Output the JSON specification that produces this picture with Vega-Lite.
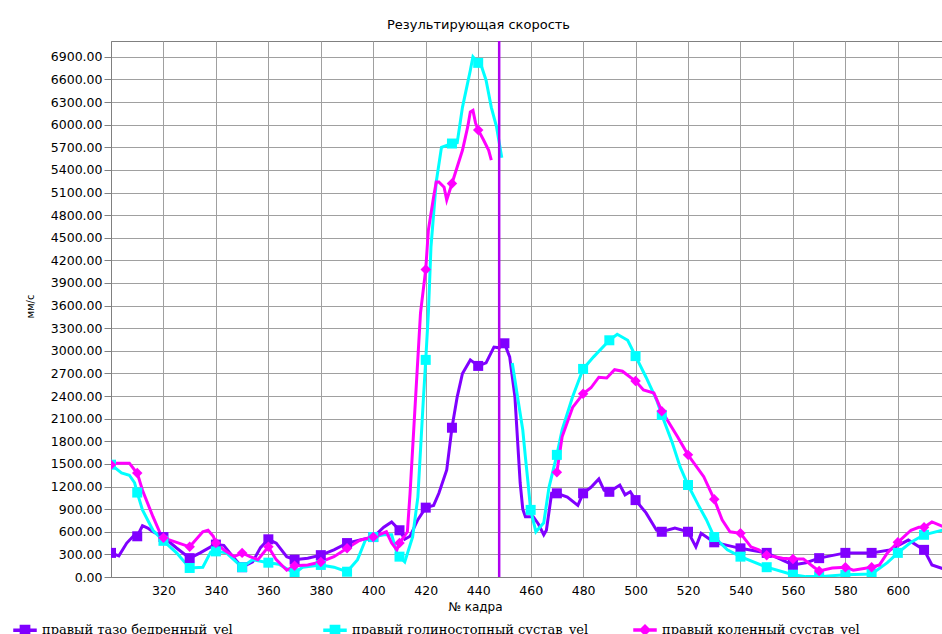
{
"$schema": "https://vega.github.io/schema/vega-lite/v6.json",
"width": 833, "height": 536,
"autosize": {"type": "none"},
"padding": {"left": 111, "top": 41, "right": 0, "bottom": 57},
"background": "white",
"config": {"view": {"stroke": "#808080"}},
"title": {"text": "Результирующая скорость", "frame": "group", "anchor": "middle", "dx": -49, "baseline": "middle", "offset": 2, "font": "DejaVu Sans", "fontSize": 13, "fontWeight": "normal", "color": "#000"},
"datasets": {
"speed": [
{"s":"правый тазо бедренный_vel","f":300,"v":320},{"s":"правый тазо бедренный_vel","f":303,"v":280},{"s":"правый тазо бедренный_vel","f":306,"v":450},{"s":"правый тазо бедренный_vel","f":309,"v":560},{"s":"правый тазо бедренный_vel","f":310,"v":540},{"s":"правый тазо бедренный_vel","f":312,"v":680},{"s":"правый тазо бедренный_vel","f":314,"v":650},{"s":"правый тазо бедренный_vel","f":316,"v":600},{"s":"правый тазо бедренный_vel","f":320,"v":530},{"s":"правый тазо бедренный_vel","f":325,"v":385},{"s":"правый тазо бедренный_vel","f":330,"v":250},{"s":"правый тазо бедренный_vel","f":334,"v":320},{"s":"правый тазо бедренный_vel","f":339,"v":420},{"s":"правый тазо бедренный_vel","f":340,"v":430},{"s":"правый тазо бедренный_vel","f":343,"v":420},{"s":"правый тазо бедренный_vel","f":346,"v":290},{"s":"правый тазо бедренный_vel","f":350,"v":130},{"s":"правый тазо бедренный_vel","f":354,"v":200},{"s":"правый тазо бедренный_vel","f":357,"v":390},{"s":"правый тазо бедренный_vel","f":360,"v":500},{"s":"правый тазо бедренный_vel","f":363,"v":450},{"s":"правый тазо бедренный_vel","f":367,"v":270},{"s":"правый тазо бедренный_vel","f":370,"v":230},{"s":"правый тазо бедренный_vel","f":375,"v":250},{"s":"правый тазо бедренный_vel","f":380,"v":290},{"s":"правый тазо бедренный_vel","f":385,"v":360},{"s":"правый тазо бедренный_vel","f":390,"v":450},{"s":"правый тазо бедренный_vel","f":395,"v":490},{"s":"правый тазо бедренный_vel","f":400,"v":530},{"s":"правый тазо бедренный_vel","f":404,"v":660},{"s":"правый тазо бедренный_vel","f":407,"v":730},{"s":"правый тазо бедренный_vel","f":410,"v":620},{"s":"правый тазо бедренный_vel","f":412,"v":500},{"s":"правый тазо бедренный_vel","f":414,"v":540},{"s":"правый тазо бедренный_vel","f":417,"v":760},{"s":"правый тазо бедренный_vel","f":420,"v":920},{"s":"правый тазо бедренный_vel","f":423,"v":950},{"s":"правый тазо бедренный_vel","f":425,"v":1110},{"s":"правый тазо бедренный_vel","f":428,"v":1420},{"s":"правый тазо бедренный_vel","f":430,"v":1980},{"s":"правый тазо бедренный_vel","f":432,"v":2390},{"s":"правый тазо бедренный_vel","f":434,"v":2700},{"s":"правый тазо бедренный_vel","f":437,"v":2880},{"s":"правый тазо бедренный_vel","f":440,"v":2800},{"s":"правый тазо бедренный_vel","f":443,"v":2840},{"s":"правый тазо бедренный_vel","f":446,"v":3050},{"s":"правый тазо бедренный_vel","f":448,"v":3040},{"s":"правый тазо бедренный_vel","f":450,"v":3100},{"s":"правый тазо бедренный_vel","f":452,"v":2920},{"s":"правый тазо бедренный_vel","f":454,"v":2390},{"s":"правый тазо бедренный_vel","f":455,"v":1820},{"s":"правый тазо бедренный_vel","f":456,"v":1250},{"s":"правый тазо бедренный_vel","f":457,"v":900},{"s":"правый тазо бедренный_vel","f":458,"v":800},{"s":"правый тазо бедренный_vel","f":461,"v":800},{"s":"правый тазо бедренный_vel","f":463,"v":700},{"s":"правый тазо бедренный_vel","f":465,"v":560},{"s":"правый тазо бедренный_vel","f":466,"v":620},{"s":"правый тазо бедренный_vel","f":468,"v":1110},{"s":"правый тазо бедренный_vel","f":470,"v":1110},{"s":"правый тазо бедренный_vel","f":474,"v":1060},{"s":"правый тазо бедренный_vel","f":478,"v":950},{"s":"правый тазо бедренный_vel","f":480,"v":1110},{"s":"правый тазо бедренный_vel","f":483,"v":1190},{"s":"правый тазо бедренный_vel","f":486,"v":1300},{"s":"правый тазо бедренный_vel","f":488,"v":1150},{"s":"правый тазо бедренный_vel","f":490,"v":1130},{"s":"правый тазо бедренный_vel","f":494,"v":1220},{"s":"правый тазо бедренный_vel","f":496,"v":1090},{"s":"правый тазо бедренный_vel","f":498,"v":1130},{"s":"правый тазо бедренный_vel","f":500,"v":1020},{"s":"правый тазо бедренный_vel","f":504,"v":850},{"s":"правый тазо бедренный_vel","f":508,"v":620},{"s":"правый тазо бедренный_vel","f":510,"v":600},{"s":"правый тазо бедренный_vel","f":515,"v":650},{"s":"правый тазо бедренный_vel","f":520,"v":600},{"s":"правый тазо бедренный_vel","f":523,"v":400},{"s":"правый тазо бедренный_vel","f":525,"v":580},{"s":"правый тазо бедренный_vel","f":530,"v":460},{"s":"правый тазо бедренный_vel","f":535,"v":420},{"s":"правый тазо бедренный_vel","f":540,"v":380},{"s":"правый тазо бедренный_vel","f":550,"v":320},{"s":"правый тазо бедренный_vel","f":560,"v":160},{"s":"правый тазо бедренный_vel","f":565,"v":190},{"s":"правый тазо бедренный_vel","f":570,"v":250},{"s":"правый тазо бедренный_vel","f":580,"v":320},{"s":"правый тазо бедренный_vel","f":590,"v":320},{"s":"правый тазо бедренный_vel","f":597,"v":360},{"s":"правый тазо бедренный_vel","f":604,"v":490},{"s":"правый тазо бедренный_vel","f":610,"v":360},{"s":"правый тазо бедренный_vel","f":613,"v":160},{"s":"правый тазо бедренный_vel","f":618,"v":100},
{"s":"правый голиностопный сустав_vel","f":300,"v":1490},{"s":"правый голиностопный сустав_vel","f":304,"v":1380},{"s":"правый голиностопный сустав_vel","f":307,"v":1350},{"s":"правый голиностопный сустав_vel","f":309,"v":1250},{"s":"правый голиностопный сустав_vel","f":310,"v":1120},{"s":"правый голиностопный сустав_vel","f":312,"v":890},{"s":"правый голиностопный сустав_vel","f":316,"v":620},{"s":"правый голиностопный сустав_vel","f":320,"v":480},{"s":"правый голиностопный сустав_vel","f":325,"v":320},{"s":"правый голиностопный сустав_vel","f":330,"v":120},{"s":"правый голиностопный сустав_vel","f":335,"v":130},{"s":"правый голиностопный сустав_vel","f":338,"v":330},{"s":"правый голиностопный сустав_vel","f":340,"v":340},{"s":"правый голиностопный сустав_vel","f":344,"v":320},{"s":"правый голиностопный сустав_vel","f":350,"v":130},{"s":"правый голиностопный сустав_vel","f":354,"v":230},{"s":"правый голиностопный сустав_vel","f":360,"v":190},{"s":"правый голиностопный сустав_vel","f":364,"v":170},{"s":"правый голиностопный сустав_vel","f":370,"v":50},{"s":"правый голиностопный сустав_vel","f":373,"v":130},{"s":"правый голиностопный сустав_vel","f":380,"v":160},{"s":"правый голиностопный сустав_vel","f":385,"v":130},{"s":"правый голиностопный сустав_vel","f":390,"v":70},{"s":"правый голиностопный сустав_vel","f":394,"v":230},{"s":"правый голиностопный сустав_vel","f":397,"v":490},{"s":"правый голиностопный сустав_vel","f":400,"v":530},{"s":"правый голиностопный сустав_vel","f":404,"v":560},{"s":"правый голиностопный сустав_vel","f":407,"v":560},{"s":"правый голиностопный сустав_vel","f":409,"v":320},{"s":"правый голиностопный сустав_vel","f":410,"v":270},{"s":"правый голиностопный сустав_vel","f":412,"v":200},{"s":"правый голиностопный сустав_vel","f":415,"v":530},{"s":"правый голиностопный сустав_vel","f":417,"v":1060},{"s":"правый голиностопный сустав_vel","f":419,"v":2300},{"s":"правый голиностопный сустав_vel","f":420,"v":2880},{"s":"правый голиностопный сустав_vel","f":421,"v":3500},{"s":"правый голиностопный сустав_vel","f":422,"v":4380},{"s":"правый голиностопный сустав_vel","f":424,"v":5240},{"s":"правый голиностопный сустав_vel","f":426,"v":5700},{"s":"правый голиностопный сустав_vel","f":430,"v":5750},{"s":"правый голиностопный сустав_vel","f":432,"v":5760},{"s":"правый голиностопный сустав_vel","f":434,"v":6230},{"s":"правый голиностопный сустав_vel","f":437,"v":6720},{"s":"правый голиностопный сустав_vel","f":438,"v":6900},{"s":"правый голиностопный сустав_vel","f":440,"v":6820},{"s":"правый голиностопный сустав_vel","f":441,"v":6800},{"s":"правый голиностопный сустав_vel","f":443,"v":6590},{"s":"правый голиностопный сустав_vel","f":445,"v":6230},{"s":"правый голиностопный сустав_vel","f":447,"v":5970},{"s":"правый голиностопный сустав_vel","f":449,"v":5560},{"s":"правый голиностопный сустав_vel","f":451,"v":null},{"s":"правый голиностопный сустав_vel","f":453,"v":2840},{"s":"правый голиностопный сустав_vel","f":455,"v":2390},{"s":"правый голиностопный сустав_vel","f":457,"v":1950},{"s":"правый голиностопный сустав_vel","f":458,"v":1590},{"s":"правый голиностопный сустав_vel","f":459,"v":1250},{"s":"правый голиностопный сустав_vel","f":460,"v":890},{"s":"правый голиностопный сустав_vel","f":462,"v":600},{"s":"правый голиностопный сустав_vel","f":465,"v":720},{"s":"правый голиностопный сустав_vel","f":467,"v":1190},{"s":"правый голиностопный сустав_vel","f":470,"v":1620},{"s":"правый голиностопный сустав_vel","f":472,"v":1950},{"s":"правый голиностопный сустав_vel","f":476,"v":2390},{"s":"правый голиностопный сустав_vel","f":480,"v":2760},{"s":"правый голиностопный сустав_vel","f":484,"v":2920},{"s":"правый голиностопный сустав_vel","f":490,"v":3140},{"s":"правый голиностопный сустав_vel","f":493,"v":3220},{"s":"правый голиностопный сустав_vel","f":497,"v":3140},{"s":"правый голиностопный сустав_vel","f":500,"v":2930},{"s":"правый голиностопный сустав_vel","f":504,"v":2650},{"s":"правый голиностопный сустав_vel","f":508,"v":2350},{"s":"правый голиностопный сустав_vel","f":510,"v":2150},{"s":"правый голиностопный сустав_vel","f":514,"v":1780},{"s":"правый голиностопный сустав_vel","f":517,"v":1460},{"s":"правый голиностопный сустав_vel","f":520,"v":1220},{"s":"правый голиностопный сустав_vel","f":524,"v":950},{"s":"правый голиностопный сустав_vel","f":527,"v":760},{"s":"правый голиностопный сустав_vel","f":530,"v":530},{"s":"правый голиностопный сустав_vel","f":535,"v":360},{"s":"правый голиностопный сустав_vel","f":540,"v":270},{"s":"правый голиностопный сустав_vel","f":550,"v":130},{"s":"правый голиностопный сустав_vel","f":560,"v":30},{"s":"правый голиностопный сустав_vel","f":565,"v":5},{"s":"правый голиностопный сустав_vel","f":570,"v":5},{"s":"правый голиностопный сустав_vel","f":580,"v":30},{"s":"правый голиностопный сустав_vel","f":590,"v":40},{"s":"правый голиностопный сустав_vel","f":596,"v":190},{"s":"правый голиностопный сустав_vel","f":600,"v":320},{"s":"правый голиностопный сустав_vel","f":605,"v":460},{"s":"правый голиностопный сустав_vel","f":610,"v":560},{"s":"правый голиностопный сустав_vel","f":618,"v":630},
{"s":"правый коленный сустав_vel","f":300,"v":1490},{"s":"правый коленный сустав_vel","f":302,"v":1510},{"s":"правый коленный сустав_vel","f":307,"v":1510},{"s":"правый коленный сустав_vel","f":309,"v":1420},{"s":"правый коленный сустав_vel","f":310,"v":1380},{"s":"правый коленный сустав_vel","f":312,"v":1150},{"s":"правый коленный сустав_vel","f":316,"v":800},{"s":"правый коленный сустав_vel","f":319,"v":560},{"s":"правый коленный сустав_vel","f":320,"v":520},{"s":"правый коленный сустав_vel","f":325,"v":460},{"s":"правый коленный сустав_vel","f":330,"v":400},{"s":"правый коленный сустав_vel","f":335,"v":600},{"s":"правый коленный сустав_vel","f":337,"v":620},{"s":"правый коленный сустав_vel","f":339,"v":540},{"s":"правый коленный сустав_vel","f":340,"v":450},{"s":"правый коленный сустав_vel","f":343,"v":360},{"s":"правый коленный сустав_vel","f":347,"v":270},{"s":"правый коленный сустав_vel","f":350,"v":320},{"s":"правый коленный сустав_vel","f":353,"v":270},{"s":"правый коленный сустав_vel","f":356,"v":230},{"s":"правый коленный сустав_vel","f":360,"v":400},{"s":"правый коленный сустав_vel","f":363,"v":230},{"s":"правый коленный сустав_vel","f":367,"v":90},{"s":"правый коленный сустав_vel","f":370,"v":150},{"s":"правый коленный сустав_vel","f":375,"v":160},{"s":"правый коленный сустав_vel","f":380,"v":200},{"s":"правый коленный сустав_vel","f":385,"v":270},{"s":"правый коленный сустав_vel","f":390,"v":380},{"s":"правый коленный сустав_vel","f":395,"v":490},{"s":"правый коленный сустав_vel","f":400,"v":530},{"s":"правый коленный сустав_vel","f":405,"v":600},{"s":"правый коленный сустав_vel","f":407,"v":450},{"s":"правый коленный сустав_vel","f":409,"v":360},{"s":"правый коленный сустав_vel","f":410,"v":450},{"s":"правый коленный сустав_vel","f":413,"v":600},{"s":"правый коленный сустав_vel","f":414,"v":1100},{"s":"правый коленный сустав_vel","f":416,"v":2300},{"s":"правый коленный сустав_vel","f":418,"v":3500},{"s":"правый коленный сустав_vel","f":420,"v":4080},{"s":"правый коленный сустав_vel","f":421,"v":4600},{"s":"правый коленный сустав_vel","f":423,"v":5040},{"s":"правый коленный сустав_vel","f":424,"v":5240},{"s":"правый коленный сустав_vel","f":425,"v":5240},{"s":"правый коленный сустав_vel","f":427,"v":5170},{"s":"правый коленный сустав_vel","f":428,"v":5000},{"s":"правый коленный сустав_vel","f":430,"v":5220},{"s":"правый коленный сустав_vel","f":434,"v":5660},{"s":"правый коленный сустав_vel","f":436,"v":5970},{"s":"правый коленный сустав_vel","f":437,"v":6170},{"s":"правый коленный сустав_vel","f":438,"v":6190},{"s":"правый коленный сустав_vel","f":439,"v":6020},{"s":"правый коленный сустав_vel","f":440,"v":5930},{"s":"правый коленный сустав_vel","f":442,"v":5800},{"s":"правый коленный сустав_vel","f":444,"v":5660},{"s":"правый коленный сустав_vel","f":445,"v":5530},{"s":"правый коленный сустав_vel","f":446,"v":null},{"s":"правый коленный сустав_vel","f":470,"v":1390},{"s":"правый коленный сустав_vel","f":472,"v":1860},{"s":"правый коленный сустав_vel","f":476,"v":2250},{"s":"правый коленный сустав_vel","f":480,"v":2430},{"s":"правый коленный сустав_vel","f":483,"v":2510},{"s":"правый коленный сустав_vel","f":486,"v":2650},{"s":"правый коленный сустав_vel","f":489,"v":2640},{"s":"правый коленный сустав_vel","f":492,"v":2750},{"s":"правый коленный сустав_vel","f":495,"v":2730},{"s":"правый коленный сустав_vel","f":498,"v":2650},{"s":"правый коленный сустав_vel","f":500,"v":2600},{"s":"правый коленный сустав_vel","f":503,"v":2480},{"s":"правый коленный сустав_vel","f":507,"v":2440},{"s":"правый коленный сустав_vel","f":510,"v":2200},{"s":"правый коленный сустав_vel","f":516,"v":1860},{"s":"правый коленный сустав_vel","f":520,"v":1620},{"s":"правый коленный сустав_vel","f":526,"v":1330},{"s":"правый коленный сустав_vel","f":530,"v":1030},{"s":"правый коленный сустав_vel","f":533,"v":760},{"s":"правый коленный сустав_vel","f":536,"v":600},{"s":"правый коленный сустав_vel","f":540,"v":580},{"s":"правый коленный сустав_vel","f":544,"v":400},{"s":"правый коленный сустав_vel","f":547,"v":360},{"s":"правый коленный сустав_vel","f":550,"v":290},{"s":"правый коленный сустав_vel","f":556,"v":250},{"s":"правый коленный сустав_vel","f":560,"v":240},{"s":"правый коленный сустав_vel","f":564,"v":240},{"s":"правый коленный сустав_vel","f":568,"v":130},{"s":"правый коленный сустав_vel","f":570,"v":80},{"s":"правый коленный сустав_vel","f":575,"v":120},{"s":"правый коленный сустав_vel","f":580,"v":130},{"s":"правый коленный сустав_vel","f":583,"v":90},{"s":"правый коленный сустав_vel","f":590,"v":130},{"s":"правый коленный сустав_vel","f":593,"v":160},{"s":"правый коленный сустав_vel","f":596,"v":320},{"s":"правый коленный сустав_vel","f":600,"v":460},{"s":"правый коленный сустав_vel","f":605,"v":620},{"s":"правый коленный сустав_vel","f":608,"v":660},{"s":"правый коленный сустав_vel","f":610,"v":660},{"s":"правый коленный сустав_vel","f":613,"v":730},{"s":"правый коленный сустав_vel","f":618,"v":660}
],
"cursor": [{"frame": 448}]
},
"layer": [
{"data": {"name": "speed"},
 "mark": {"type": "line", "strokeWidth": 3, "invalid": "break-paths-show-domains", "clip": true},
 "encoding": {
  "x": {"field": "f", "type": "quantitative", "scale": {"domain": [300, 617.6], "nice": false, "zero": false},
   "axis": {"values": [320,340,360,380,400,420,440,460,480,500,520,540,560,580,600], "tickCount": 30, "ticks": false, "labelPadding": 7, "labelFont": "DejaVu Sans", "labelFontSize": 12.5, "labelColor": "#000", "labelFlush": false, "labelOverlap": false, "domainColor": "#808080", "grid": true, "gridColor": "#a0a0a0", "title": "№ кадра", "titleFont": "DejaVu Sans", "titleFontSize": 12, "titleFontWeight": "normal", "titleColor": "#000", "titleX": 364, "titleY": 29, "titleAlign": "center", "titleBaseline": "middle"}},
  "y": {"field": "v", "type": "quantitative", "scale": {"domain": [0, 7110], "nice": false},
   "axis": {"values": [0,300,600,900,1200,1500,1800,2100,2400,2700,3000,3300,3600,3900,4200,4500,4800,5100,5400,5700,6000,6300,6600,6900], "tickCount": 40, "format": ".2f", "tickSize": 7, "tickColor": "#808080", "labelPadding": 2, "labelFont": "DejaVu Sans", "labelFontSize": 12.5, "labelColor": "#000", "labelFlush": false, "labelOverlap": false, "domainColor": "#808080", "grid": true, "gridColor": "#a0a0a0", "title": "мм/с", "titleFont": "DejaVu Sans", "titleFontSize": 10, "titleFontWeight": "normal", "titleColor": "#000", "titleX": -81, "titleY": 265, "titleAngle": -90, "titleAlign": "center", "titleBaseline": "middle"}},
  "color": {"field": "s", "type": "nominal",
   "scale": {"domain": ["правый тазо бедренный_vel", "правый голиностопный сустав_vel", "правый коленный сустав_vel"], "range": ["#8000ff", "#00ffff", "#ff00ff"]},
   "legend": {"orient": "none", "legendX": -98, "legendY": 577, "direction": "horizontal", "columns": 3, "gridAlign": "all", "columnPadding": 42, "padding": 0, "title": null, "symbolSize": 484, "symbolType": "M-1,-0.09L1,-0.09L1,0.09L-1,0.09Z M-0.42,-0.42L0.42,-0.42L0.42,0.42L-0.42,0.42Z", "labelFont": "DejaVu Serif", "labelFontSize": 13, "labelColor": "#000", "labelOffset": 5, "labelLimit": 400,
    "encode": {"symbols": {"update": {
     "shape": {"signal": "datum.value === 'правый коленный сустав_vel' ? 'M-1,-0.09L1,-0.09L1,0.09L-1,0.09Z M0,-0.45L0.45,0L0,0.45L-0.45,0Z' : 'M-1,-0.09L1,-0.09L1,0.09L-1,0.09Z M-0.42,-0.42L0.42,-0.42L0.42,0.42L-0.42,0.42Z'"},
     "fill": {"scale": "color", "field": "value"},
     "fillOpacity": {"value": 1},
     "stroke": {"value": "transparent"},
     "size": {"value": 484}}}}}}
 }},
{"data": {"name": "speed"},
 "transform": [{"filter": "datum.v != null && datum.f % 10 === 0 && datum.s !== 'правый коленный сустав_vel'"}],
 "mark": {"type": "point", "shape": "square", "filled": true, "size": 100, "opacity": 1, "clip": true},
 "encoding": {
  "x": {"field": "f", "type": "quantitative"},
  "y": {"field": "v", "type": "quantitative"},
  "color": {"field": "s", "type": "nominal"}
 }},
{"data": {"name": "speed"},
 "transform": [{"filter": "datum.v != null && datum.f % 10 === 0 && datum.s === 'правый коленный сустав_vel'"}],
 "mark": {"type": "point", "shape": "diamond", "filled": true, "size": 110, "opacity": 1, "clip": true},
 "encoding": {
  "x": {"field": "f", "type": "quantitative"},
  "y": {"field": "v", "type": "quantitative"},
  "color": {"field": "s", "type": "nominal"}
 }},
{"data": {"name": "cursor"},
 "mark": {"type": "rule", "color": "#b000f0", "strokeWidth": 2.5},
 "encoding": {"x": {"field": "frame", "type": "quantitative"}}}
]
}
